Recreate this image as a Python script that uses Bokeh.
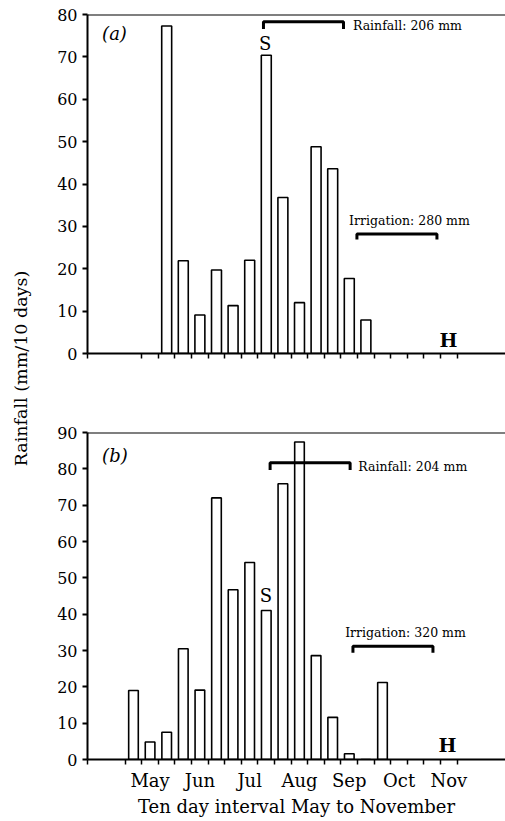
from bokeh.plotting import figure
from bokeh.layouts import row, column
from bokeh.models import (ColumnDataSource, FixedTicker, Range1d, Span, Label, LinearAxis)
from bokeh.embed import file_html
from bokeh.resources import INLINE
import math

# ---------------- data ----------------
# ten-day intervals, index 0 = 1-10 May
interval_a = [2, 3, 4, 5, 6, 7, 8, 9, 10, 11, 12, 13, 14]
rain_a = [77.3, 21.9, 9.1, 19.7, 11.3, 22.0, 70.4, 36.8, 12.0, 48.8, 43.6, 17.7, 7.9]

interval_b = [0, 1, 2, 3, 4, 5, 6, 7, 8, 9, 10, 11, 12, 13, 14, 15]
rain_b = [19.0, 4.8, 7.5, 30.5, 19.1, 72.0, 46.7, 54.2, 41.0, 75.9, 87.4, 28.6, 11.6, 1.6, 0.0, 21.2]

months = ["May", "Jun", "Jul", "Aug", "Sep", "Oct", "Nov"]
boundary_ticks_a = list(range(1, 21))
boundary_ticks_b = list(range(0, 21))

# annotations (interval units / mm)
rain_label_a = "Rainfall: 206 mm"
irr_label_a = "Irrigation: 280 mm"
rain_label_b = "Rainfall: 204 mm"
irr_label_b = "Irrigation: 320 mm"
rain_period_a = (8.33, 13.15)
irr_period_a = (13.96, 18.78)
rain_period_b = (8.73, 13.55)
irr_period_b = (13.72, 18.54)
sowing_a = 8.43
sowing_b = 8.48
harvest_a = 19.48
harvest_b = 19.42

FONT = "DejaVu Serif"
X_START, X_END = -2.27, 22.91

LW_FIG = 38
PW = 467
BL = 49
H_A = 413
H_B = 407


def base_fig(height, ymax, top_b, bot_b, boundary_ticks, with_labels):
    p = figure(width=PW, height=height, output_backend="svg", toolbar_location=None,
               x_range=Range1d(X_START, X_END), y_range=Range1d(0, ymax),
               min_border_left=BL, min_border_right=0, min_border_top=top_b,
               min_border_bottom=bot_b, x_axis_type=None)
    p.outline_line_color = None
    p.grid.visible = False
    p.background_fill_color = "white"
    p.border_fill_color = "white"
    # y axis
    p.yaxis.ticker = FixedTicker(ticks=list(range(0, ymax + 1, 10)))
    p.yaxis.axis_line_width = 2
    p.yaxis.major_tick_line_width = 2
    p.yaxis.major_tick_out = 5
    p.yaxis.major_tick_in = 0
    p.yaxis.minor_tick_line_color = None
    p.yaxis.major_label_standoff = 5
    p.yaxis.major_label_text_font = FONT
    p.yaxis.major_label_text_font_size = "16px"
    p.yaxis.major_label_text_color = "black"
    # x axis
    if with_labels:
        centers = [1.5 + 3 * i for i in range(len(months))]
        ticker = FixedTicker(ticks=centers, minor_ticks=[X_START] + boundary_ticks)
    else:
        ticker = FixedTicker(ticks=[], minor_ticks=[X_START] + boundary_ticks)
    xa = LinearAxis(ticker=ticker)
    xa.axis_line_width = 2
    xa.major_tick_out = 0
    xa.major_tick_in = 0
    xa.minor_tick_out = 5
    xa.minor_tick_in = 0
    xa.minor_tick_line_width = 1.5
    xa.minor_tick_line_color = "black"
    if with_labels:
        xa.major_label_overrides = {c: m for c, m in zip(centers, months)}
        xa.major_label_text_font = FONT
        xa.major_label_text_font_size = "18px"
        xa.major_label_text_color = "black"
        xa.major_label_standoff = 5
        xa.axis_label = "Ten day interval May to November"
        xa.axis_label_text_font = FONT
        xa.axis_label_text_font_size = "18px"
        xa.axis_label_text_font_style = "normal"
        xa.axis_label_text_color = "black"
        xa.axis_label_standoff = 2
    else:
        xa.major_label_text_font_size = "0px"
    p.add_layout(xa, "below")
    p.add_layout(Span(location=ymax, dimension="width", line_color="black", line_width=2))
    return p


def add_bracket(p, period, y_line, y_end, lw=3):
    p.line([period[0], period[0], period[1], period[1]], [y_end, y_line, y_line, y_end],
           line_color="black", line_width=lw)


def add_text(p, x, y, txt, size, style="normal", align="left"):
    p.add_layout(Label(x=x, y=y, text=txt, text_font=FONT, text_font_size=size,
                       text_font_style=style, text_align=align, text_baseline="middle",
                       text_color="black"))


# ---------------- panel (a) ----------------
pa = base_fig(H_A, 80, 14, 60, boundary_ticks_a, False)
src_a = ColumnDataSource(dict(x=[i + 0.5 for i in interval_a], top=rain_a))
pa.vbar(x="x", top="top", bottom=0, width=0.6, source=src_a,
        fill_color="white", line_color="black", line_width=1.6)
add_bracket(pa, rain_period_a, 78.3, 76.6)
add_bracket(pa, irr_period_a, 28.2, 26.9)
add_text(pa, 13.72, 77.4, rain_label_a, "12.5px")
add_text(pa, 13.49, 31.4, irr_label_a, "12.5px")
add_text(pa, sowing_a, 73.2, "S", "18px", align="center")
add_text(pa, harvest_a, 3.2, "H", "19px", style="bold", align="center")
add_text(pa, -1.39, 75.6, "(a)", "18px", style="italic")

# ---------------- panel (b) ----------------
pb = base_fig(H_B, 90, 19, 61, boundary_ticks_b, True)
src_b = ColumnDataSource(dict(x=[i + 0.5 for i in interval_b], top=rain_b))
pb.vbar(x="x", top="top", bottom=0, width=0.58, source=src_b,
        fill_color="white", line_color="black", line_width=1.6)
add_bracket(pb, rain_period_b, 81.7, 79.7)
add_bracket(pb, irr_period_b, 31.2, 29.4)
add_text(pb, 14.04, 80.7, rain_label_b, "12.5px")
add_text(pb, 13.25, 35.0, irr_label_b, "12.5px")
add_text(pb, sowing_b, 45.2, "S", "18px", align="center")
add_text(pb, harvest_b, 4.0, "H", "19px", style="bold", align="center")
add_text(pb, -1.39, 83.8, "(b)", "18px", style="italic")

# ---------------- shared y label ----------------
TOTAL_H = H_A + H_B
pl = figure(width=LW_FIG, height=TOTAL_H, output_backend="svg", toolbar_location=None,
            x_range=Range1d(0, LW_FIG), y_range=Range1d(0, TOTAL_H),
            min_border=0, x_axis_type=None, y_axis_type=None)
pl.outline_line_color = None
pl.grid.visible = False
pl.add_layout(Label(x=20, y=TOTAL_H - 368, text="Rainfall (mm/10 days)", text_font=FONT,
                    text_font_size="17.5px", text_align="center", text_baseline="middle",
                    angle=math.pi / 2, text_color="black"))

layout = row(pl, column(pa, pb))
open("out.html", "w").write(file_html(layout, INLINE))
